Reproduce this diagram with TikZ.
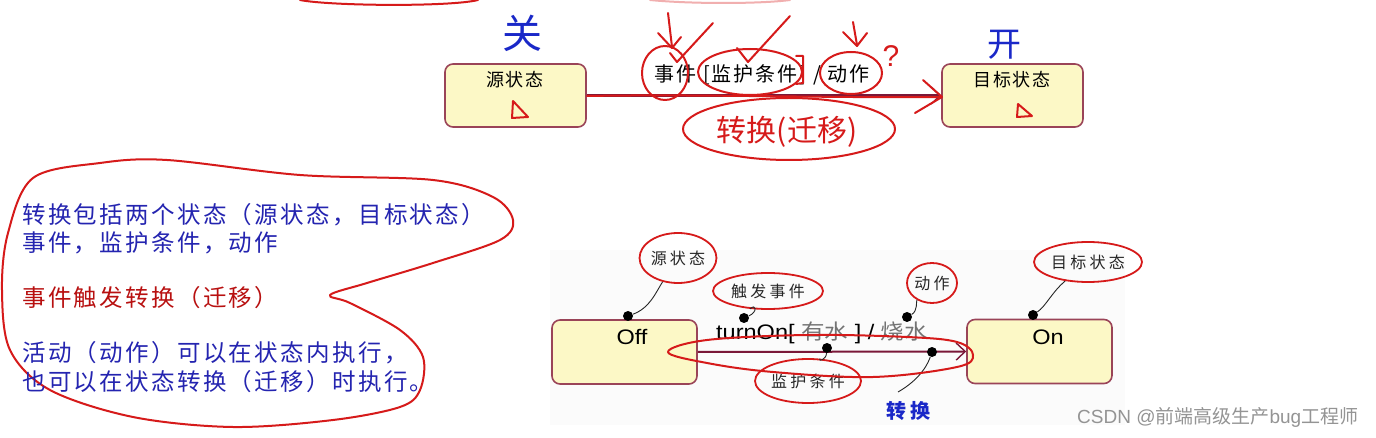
\documentclass[tikz,border=0pt]{standalone}
\usepackage{graphicx}
\usepackage{fontspec}
\setmainfont{Liberation Sans}
\newfontfamily\cjk{Noto Sans CJK SC}
\newfontfamily\cjkls[LetterSpace=10]{Noto Sans CJK SC}
\newfontfamily\cjkw[LetterSpace=20]{Noto Sans CJK SC}
\usetikzlibrary{arrows.meta,shapes.geometric}
\definecolor{statefill}{HTML}{FCF8C6}
\definecolor{statebd}{HTML}{9A4458}
\definecolor{transc}{HTML}{7A1838}
\definecolor{hred}{HTML}{D61A1A}
\definecolor{hblue}{HTML}{1A28C8}
\definecolor{txtblue}{HTML}{2424B0}
\definecolor{txtred}{HTML}{B81010}
\definecolor{bgc}{HTML}{FBFBFB}
\tikzset{
  statebox/.style={draw=statebd, line width=1.6pt, fill=statefill, rounded corners=8pt, inner sep=0pt},
  trans/.style={draw=transc, line width=2.2pt, -{Straight Barb[length=9pt,width=17pt,line width=1.4pt]}},
  hand/.style={draw=hred, line width=2pt, line cap=round, line join=round},
  pinline/.style={draw=black!85, line width=0.9pt},
  dotc/.style={fill=black, circle, inner sep=0pt, minimum size=10pt},
  lbl/.style={ellipse, draw=hred, line width=1.8pt, inner sep=0pt, text=black!85, font=\cjkw\fontsize{16}{18}\selectfont},
  ltext/.style={anchor=west, inner sep=0pt, font=\cjkls\fontsize{23.5}{26}\selectfont},
  stext/.style={inner sep=0pt, font=\cjkls\fontsize{18}{20}\selectfont, text=black},
  etext/.style={inner sep=0pt, font=\fontsize{21}{24}\selectfont, text=black}
}
\begin{document}
\begin{tikzpicture}[x=1pt,y=-1pt]
\useasboundingbox (0,0) rectangle (1376,438);
\fill[white] (0,0) rectangle (1376,438);
\fill[bgc] (550,250) rectangle (1125,425);

% ---------- top diagram ----------
\node[statebox, minimum width=141pt, minimum height=63pt] (src) at (515.5,95.5) {};
\node[statebox, minimum width=141pt, minimum height=63pt] (tgt) at (1012.5,95.5) {};
\node[stext] (srct) at (515,80) {源状态};
\node[stext] (tgtt) at (1012,80) {目标状态};
\draw[trans] (src.east) -- (tgt.west);
\node[inner sep=0pt, font=\cjkls\fontsize{20}{22}\selectfont, text=black] (tlab) at (762,75) {事件 [监护条件] / 动作};

% handwriting on top diagram
\draw[hand] (587,96) .. controls (700,94) and (820,98) .. (940,97);
\draw[hand] (923,80) -- (942,97) -- (915,113);
\draw[hand] (513,101) -- (512,118) -- (528,117) -- cycle;
\draw[hand] (1018,104) -- (1017,117) -- (1032,116) -- cycle;
\node[ellipse, hand, minimum width=46pt, minimum height=54pt, inner sep=0pt] (e1) at (665,73) {};
\node[ellipse, hand, minimum width=104pt, minimum height=46pt, inner sep=0pt] (e2) at (750,72) {};
\node[ellipse, hand, minimum width=62pt, minimum height=42pt, inner sep=0pt] (e3) at (851,73) {};
\node[ellipse, hand, minimum width=212pt, minimum height=62pt, inner sep=0pt] (e4) at (789,129) {};
\node[inner sep=0pt, text=hred, font=\cjk\fontsize{30}{34}\selectfont] (zhq) at (787,132) {转换(迁移)};
\draw[hand] (668,13) -- (672,47);
\draw[hand] (658,33) -- (672,48) -- (681,37);
\draw[hand] (670,53) -- (677,62) -- (713,23);
\draw[hand] (737,48) -- (748,62) -- (790,16);
\draw[hand] (796,56) -- (803,56) -- (803,83) -- (796,84);
\draw[hand] (853,22) -- (857,45);
\draw[hand] (843,32) -- (857,46) -- (867,33);
\node[inner sep=0pt, text=hred, font=\fontsize{30}{32}\selectfont] (qm) at (891,56) {?};
\node[inner sep=0pt, text=hblue, font=\cjk\fontsize{40}{44}\selectfont] (guan) at (522,33) {关};
\node[inner sep=0pt, text=hblue, font=\cjk\fontsize{34}{38}\selectfont] (kai) at (1004,45) {开};
\draw[hand] (300,0) .. controls (330,6) and (450,7) .. (478,0);
\draw[hand, draw=hred!35] (650,0) .. controls (690,4) and (760,4) .. (790,0);

% ---------- left text ----------
\draw[hand] plot[smooth cycle, tension=0.55] coordinates {
 (33,178) (100,163) (167,160) (300,175) (433,180) (493,197) (513,220) (500,240)
 (433,263) (367,283) (330,295) (350,303) (400,330) (423,357) (420,390) (400,407)
 (333,420) (233,427) (133,417) (50,390) (10,350) (2,290) (8,233)};
\node[ltext, text=txtblue] (t1) at (22,215) {转换包括两个状态（源状态，目标状态）};
\node[ltext, text=txtblue] (t2) at (22,243) {事件，监护条件，动作};
\node[ltext, text=txtred] (t3) at (22,298) {事件触发转换（迁移）};
\node[ltext, text=txtblue] (t4) at (22,353) {活动（动作）可以在状态内执行，};
\node[ltext, text=txtblue] (t5) at (22,382) {也可以在状态转换（迁移）时执行。};

% ---------- bottom diagram ----------
\node[statebox, minimum width=145pt, minimum height=64pt] (off) at (624.5,352) {};
\node[statebox, minimum width=145pt, minimum height=64pt] (on) at (1039.5,351.5) {};
\node[etext] (offt) at (632,337) {\scalebox{1.12}[1]{Off}};
\node[etext] (ont) at (1048,337) {\scalebox{1.12}[1]{On}};
\draw[trans, line width=2pt] (off.east) -- (on.west);
\node[anchor=west, inner sep=0pt] (blab) at (716,333) {\scalebox{1.12}[1]{\fontsize{21}{24}\selectfont turnOn[ {\cjk\color{black!55}有水} ] / {\cjk\color{black!55}烧水}}};

\node[dotc] (dsrc) at (628,316) {};
\node[dotc] (dev) at (744,318) {};
\node[dotc] (dact) at (907,317) {};
\node[dotc] (dgd) at (827,348) {};
\node[dotc] (dtr) at (932,352) {};
\node[dotc] (dtg) at (1033,315) {};

\node[lbl, minimum width=76pt, minimum height=50pt] (lsrc) at (678,258) {源状态};
\node[lbl, minimum width=110pt, minimum height=36pt] (lev) at (768,291) {触发事件};
\node[lbl, minimum width=50pt, minimum height=40pt] (lact) at (932,283) {动作};
\node[lbl, minimum width=106pt, minimum height=44pt] (lgd) at (808,381) {监护条件};
\node[lbl, minimum width=108pt, minimum height=40pt] (ltg) at (1088,262) {目标状态};
\node[inner sep=0pt, text=hblue, font=\cjkw\bfseries\fontsize{20}{22}\selectfont] (ltr) at (908,411) {转换};
\coordinate (trend) at (898,392);

\draw[pinline] (dsrc) .. controls (650,308) and (656,292) .. (lsrc);
\draw[pinline] (dev) .. controls (758,312) and (756,303) .. (lev);
\draw[pinline] (dact) .. controls (918,311) and (916,301) .. (lact);
\draw[pinline] (dgd) .. controls (826,360) and (818,362) .. (lgd);
\draw[pinline] (dtr) .. controls (925,372) and (912,384) .. (trend);
\draw[pinline] (dtg) .. controls (1046,306) and (1052,292) .. (ltg);

\draw[hand] plot[smooth cycle, tension=0.6] coordinates {
 (668,352) (707,340) (807,335) (907,337) (957,342) (973,355) (957,367) (873,377) (773,372) (707,363)};

% watermark
\node[anchor=west, inner sep=0pt, text=black!42, font=\fontsize{19}{22}\selectfont] (wm) at (1077,417) {CSDN @{\cjk 前端高级生产}bug{\cjk 工程师}};
\end{tikzpicture}
\end{document}
